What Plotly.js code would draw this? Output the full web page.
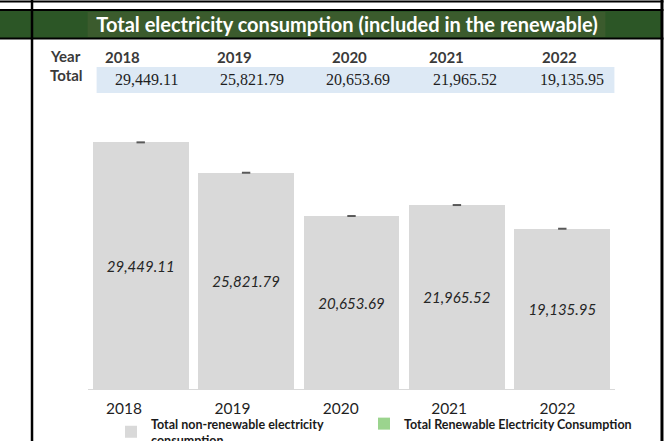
<!DOCTYPE html>
<html>
<head>
<meta charset="utf-8">
<script src="https://cdn.plot.ly/plotly-3.0.1.min.js"></script>
<style>
  html, body { margin: 0; padding: 0; background: #ffffff; }
  #chart { width: 667px; height: 441px; }
</style>
</head>
<body>
<div id="chart"></div>
<script>
// ---- data ----
const years = ['2018', '2019', '2020', '2021', '2022'];
const nonRenewable = [29449.11, 25821.79, 20653.69, 21965.52, 19135.95];
const renewable = [0, 0, 0, 0, 0];
const totals = [29449.11, 25821.79, 20653.69, 21965.52, 19135.95];
const titleText = 'Total electricity consumption (included in the renewable)';
const seriesNames = ['Total non-renewable electricity<br>consumption', 'Total Renewable Electricity Consumption'];

// ---- layout helpers (pixel -> paper) ----
const L = 88.4, R = 614.6, T = 121, B = 389;
const X = p => (p - L) / (R - L);
const Y = p => (B - p) / (B - T);
const fmt = v => v.toLocaleString('en-US', {minimumFractionDigits: 2, maximumFractionDigits: 2});
const idx = years.map((_, i) => i);

const sans = 'Lato, "Open Sans", sans-serif';

const traces = [
  {
    type: 'bar', x: idx, y: nonRenewable, name: seriesNames[0], legend: 'legend',
    marker: {color: '#d9d9d9'},
    text: nonRenewable.map(fmt), textposition: 'inside', insidetextanchor: 'middle',
    textangle: 0, constraintext: 'none',
    textfont: {family: sans, size: 15, color: '#262626', style: 'italic'},
    hoverinfo: 'skip'
  },
  {
    type: 'bar', x: idx, y: renewable, name: seriesNames[1], xaxis: 'x2', legend: 'legend2',
    marker: {color: '#9bd48e'}, hoverinfo: 'skip'
  },
  {
    type: 'scatter', mode: 'markers', x: idx, y: totals, showlegend: false,
    marker: {symbol: 'line-ew', size: 6, line: {width: 2, color: '#595959'}},
    hoverinfo: 'skip'
  }
];

// table annotations
const yearCenters = [123, 235, 350, 446, 559];
const valueCenters = [147, 252, 358, 465, 572];
const annotations = [];
annotations.push({xref: 'paper', yref: 'paper', x: X(48), y: Y(56), xanchor: 'left', yanchor: 'middle',
  text: '<b>Year</b>', showarrow: false, font: {family: sans, size: 15, color: '#3a3a3a'}});
annotations.push({xref: 'paper', yref: 'paper', x: X(48), y: Y(75), xanchor: 'left', yanchor: 'middle',
  text: '<b>Total</b>', showarrow: false, font: {family: sans, size: 15, color: '#3a3a3a'}});
years.forEach((yr, i) => {
  annotations.push({xref: 'paper', yref: 'paper', x: X(yearCenters[i]), y: Y(57), xanchor: 'center', yanchor: 'middle',
    text: '<b>' + yr + '</b>', showarrow: false, font: {family: sans, size: 15, color: '#3a3a3a'}});
  annotations.push({xref: 'paper', yref: 'paper', x: X(valueCenters[i]), y: Y(80), xanchor: 'center', yanchor: 'middle',
    text: fmt(totals[i]), showarrow: false, font: {family: '"Liberation Serif", serif', size: 16, color: '#1f1f1f'}});
});

const shapes = [
  // green band
  {type: 'rect', xref: 'paper', yref: 'paper', x0: X(0), x1: X(661), y0: Y(11), y1: Y(38), fillcolor: '#2c5626', line: {width: 0}, layer: 'below'},
  // title box
  {type: 'rect', xref: 'paper', yref: 'paper', x0: X(88), x1: X(605), y0: Y(12), y1: Y(37), fillcolor: '#3b5b2d', line: {width: 0}, layer: 'below'},
  // blue band
  {type: 'rect', xref: 'paper', yref: 'paper', x0: X(97), x1: X(614), y0: Y(67), y1: Y(93), fillcolor: '#dde9f5', line: {width: 0}, layer: 'below'},
  // horizontal lines
  {type: 'line', xref: 'paper', yref: 'paper', x0: X(0), x1: X(663), y0: Y(1.5), y1: Y(1.5), line: {color: '#000', width: 2}},
  {type: 'line', xref: 'paper', yref: 'paper', x0: X(0), x1: X(663), y0: Y(10), y1: Y(10), line: {color: '#000', width: 2}},
  {type: 'line', xref: 'paper', yref: 'paper', x0: X(0), x1: X(663), y0: Y(38.5), y1: Y(38.5), line: {color: '#000', width: 2}},
  // vertical lines
  {type: 'line', xref: 'paper', yref: 'paper', x0: X(32.5), x1: X(32.5), y0: Y(0), y1: Y(441), line: {color: '#000', width: 2.5}},
  {type: 'line', xref: 'paper', yref: 'paper', x0: X(661.5), x1: X(661.5), y0: Y(0), y1: Y(441), line: {color: '#000', width: 3}}
];

const legendBase = {orientation: 'h', xref: 'container', yref: 'container', y: 1 - 409 / 441,
  xanchor: 'left', yanchor: 'top', traceorder: 'normal', valign: 'middle',
  bgcolor: 'rgba(0,0,0,0)', borderwidth: 0,
  font: {family: sans, size: 12.5, color: '#1a1a1a', weight: 'bold'}};

const layout = {
  width: 667, height: 441,
  margin: {l: L, r: 667 - R, t: T, b: 441 - B, pad: 0},
  paper_bgcolor: '#ffffff', plot_bgcolor: '#ffffff',
  showlegend: true,
  barmode: 'stack', bargap: 0.09,
  title: {text: titleText, xref: 'container', yref: 'container', x: 347 / 667, y: 1 - 24.5 / 441,
    xanchor: 'center', yanchor: 'middle', font: {family: sans, size: 20, color: '#ffffff', weight: 'bold'}},
  xaxis: {type: 'linear', range: [-0.5, 4.5], showticklabels: false, showgrid: false, zeroline: false,
    showline: true, linecolor: '#d9d9d9', linewidth: 1, ticks: '', fixedrange: true},
  xaxis2: {overlaying: 'x', anchor: 'y', side: 'bottom', type: 'linear', range: [-0.333, 4.531],
    tickmode: 'array', tickvals: idx, ticktext: years, showgrid: false, zeroline: false, showline: false,
    ticks: '', ticklabelstandoff: 8, tickfont: {family: sans, size: 15.5, color: '#1f1f1f'}},
  yaxis: {range: [0, 32000], visible: false, showgrid: false, zeroline: false},
  legend: Object.assign({}, legendBase, {x: 111 / 667}),
  legend2: Object.assign({}, legendBase, {x: 364 / 667}),
  shapes: shapes,
  annotations: annotations
};

Plotly.newPlot('chart', traces, layout, {displayModeBar: false, staticPlot: true});
</script>
</body>
</html>
